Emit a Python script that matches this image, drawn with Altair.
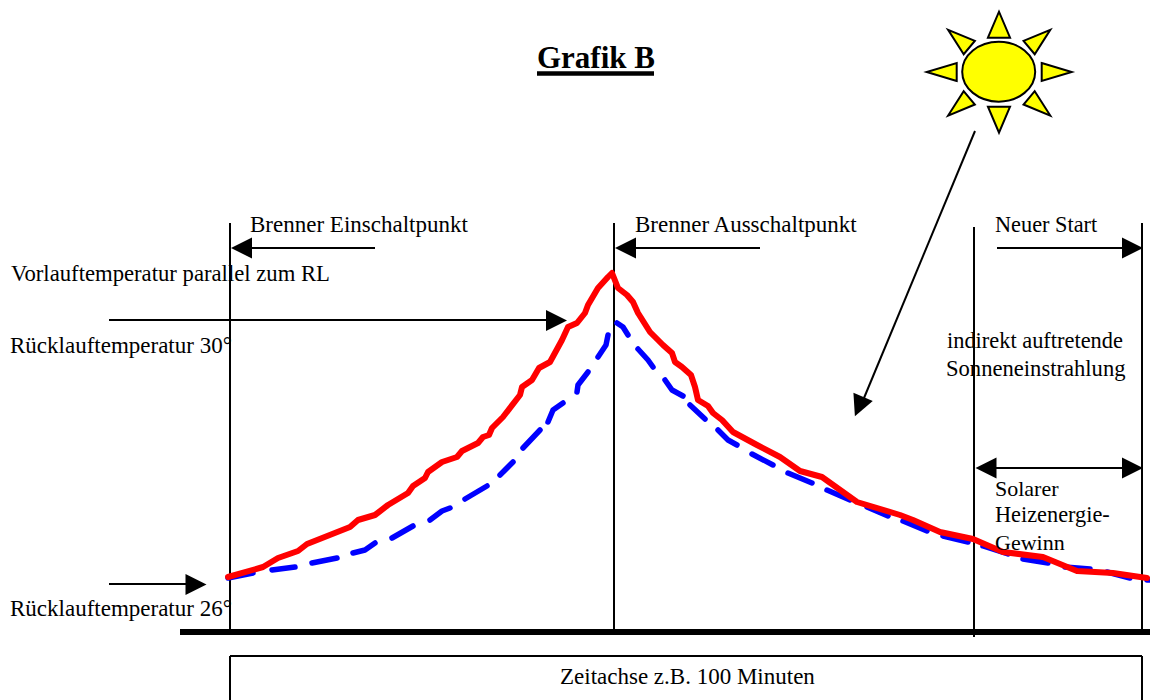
import altair as alt
import pandas as pd

FONT = "Liberation Serif"

# Axis domains of the drawing (time along x, temperature along y), no visible axes
X_DOMAIN = [8, 1150]
Y_DOMAIN = [700, 8]

RED_X = [228, 263, 278, 298, 307, 350, 358, 375, 388, 408, 413, 425, 428, 442, 457, 462, 478, 483, 489, 492, 503,
         520, 522, 532, 539, 550, 562, 568, 577, 585, 588, 598, 608, 612, 618, 627, 633, 638, 650, 663, 672, 675,
         682, 691, 695, 698, 708, 713, 722, 733, 757, 780, 800, 822, 857, 900, 913, 940, 973, 1003, 1043, 1077,
         1113, 1147]
RED_Y = [577, 567, 558, 551, 544, 527, 520, 515, 505, 493, 486, 478, 472, 462, 457, 451, 443, 437, 435, 428, 417,
         395, 387, 380, 368, 362, 340, 327, 323, 313, 305, 288, 277, 273, 288, 295, 302, 313, 332, 345, 353, 362,
         367, 375, 387, 400, 406, 413, 420, 432, 445, 457, 471, 477, 502, 515, 520, 532, 539, 552, 557, 571,
         573, 578]

BLUE_DASH = [1, 1, 2, 2, 3, 3, 4, 4, 4, 5, 5, 6, 6, 6, 7, 7, 8, 8, 9, 9, 10, 10, 10, 11, 11, 11, 12, 12, 12,
             13, 13, 13, 14, 14, 14, 15, 15, 15, 16, 16, 17, 17, 17, 18, 18, 19, 19, 20, 20, 21, 21, 22, 22,
             23, 23, 24, 24, 25, 25, 26, 26, 27, 27, 28, 28]
BLUE_X = [228, 253, 272, 295, 312, 337, 353, 365, 375, 392, 413, 430, 442, 450, 465, 487, 500, 513, 523, 540,
          548, 553, 563, 577, 578, 588, 598, 606, 608, 617, 623, 628, 638, 648, 653, 665, 672, 683, 690, 705,
          718, 728, 737, 752, 773, 788, 812, 827, 850, 867, 888, 903, 927, 943, 968, 983, 1008, 1023, 1048,
          1065, 1090, 1107, 1130, 1147, 1149]
BLUE_Y = [578, 573, 570, 567, 563, 558, 553, 550, 543, 538, 526, 520, 511, 508, 499, 486, 475, 462, 448, 430,
          422, 410, 403, 392, 385, 372, 357, 345, 335, 323, 327, 335, 349, 360, 367, 380, 390, 396, 405, 419,
          430, 440, 445, 454, 465, 473, 483, 490, 500, 507, 516, 521, 531, 536, 542, 546, 554, 559, 563,
          567, 569, 572, 578, 580, 580]

# Straight strokes: x, x2, y, y2, stroke width
LINE_X = [230, 614, 974, 1142, 180, 230, 230, 1142, 252, 636, 997, 109, 109, 975, 996, 537]
LINE_X2 = [230, 614, 974, 1142, 1150, 1142, 230, 1142, 375, 760, 1123, 547, 186, 864, 1123, 654]
LINE_Y = [223, 223, 227, 223, 632, 656, 656, 656, 248, 248, 248, 320, 584, 131, 468, 73.5]
LINE_Y2 = [632, 632, 637, 632, 632, 656, 700, 700, 248, 248, 248, 320, 584, 398, 468, 73.5]
LINE_W = [2, 2, 2, 2, 6, 2, 2, 2, 2, 2, 2, 2, 2, 2, 2, 4.5]

# Arrow heads
HEAD_PATH = "M-1,1L0,-1L1,1Z"
HEAD_X = [241.5, 625.5, 1132.5, 556.5, 196, 859, 986, 1132.5]
HEAD_Y = [248, 248, 248, 320.5, 584.5, 406.5, 468, 468]
HEAD_ANGLE = [270, 270, 90, 90, 90, 203, 270, 90]
HEAD_SIZE = [441] * len(HEAD_X)

# Sun
SUN_X = [999, 999, 941.7, 1056.7, 958.7, 1039.7, 958.7, 1039.7]
SUN_Y = [24.7, 119.7, 72, 72, 38.7, 38.7, 106.7, 106.7]
SUN_ANGLE = [0, 180, 270, 90, 310, 50, 230, 130]
SUN_SIZE = [676, 676, 900, 900, 762, 762, 762, 762]
SUN_SHAPE = ["M-0.85,1L0,-1L0.85,1Z"] * 2 + ["M-0.6,1L0,-1L0.6,1Z"] * 2 + ["M-0.63,1L0,-1L0.63,1Z"] * 4
DISC_X = [998.7]
DISC_Y = [71.7]
DISC_SIZE = [5329]
DISC_SHAPE = ["M-1,0A1,0.82,0,1,1,1,0A1,0.82,0,1,1,-1,0Z"]

# Texts
TEXTS = ["Brenner Einschaltpunkt", "Brenner Ausschaltpunkt", "Neuer Start", "Vorlauftemperatur parallel zum RL",
         "Rücklauftemperatur 30°", "Rücklauftemperatur 26°", "indirekt auftretende", "Sonneneinstrahlung",
         "Solarer", "Heizenergie-", "Gewinn", "Zeitachse z.B. 100 Minuten"]
TEXT_X = [250, 635, 995, 11, 10, 10, 947, 946, 995, 995, 995, 560]
TEXT_Y = [232, 232, 232, 281, 353, 616, 348, 376, 496, 522, 550, 684]
TEXT_SIZE = [23, 23, 22.3, 22.7, 23, 23, 22.4, 22.6, 22, 22.3, 22, 23]
TITLE = ["Grafik B"]
TITLE_X = [537]
TITLE_Y = [68]

x = alt.X("x:Q", scale=alt.Scale(domain=X_DOMAIN, nice=False, zero=False), axis=None)
y = alt.Y("y:Q", scale=alt.Scale(domain=Y_DOMAIN, nice=False, zero=False), axis=None)

lines = alt.Chart(pd.DataFrame({"x": LINE_X, "x2": LINE_X2, "y": LINE_Y, "y2": LINE_Y2, "w": LINE_W})).mark_rule(
    color="black", strokeCap="butt"
).encode(x=x, x2="x2:Q", y=y, y2="y2:Q", strokeWidth=alt.StrokeWidth("w:Q", scale=None))

blue = alt.Chart(pd.DataFrame({"x": BLUE_X, "y": BLUE_Y, "d": BLUE_DASH, "o": range(len(BLUE_X))})).mark_line(
    color="#0000ff", strokeWidth=5.5, strokeCap="round", strokeJoin="round"
).encode(x=x, y=y, detail="d:N", order="o:Q")

red = alt.Chart(pd.DataFrame({"x": RED_X, "y": RED_Y, "o": range(len(RED_X))})).mark_line(
    color="#ff0000", strokeWidth=6, strokeCap="round", strokeJoin="round"
).encode(x=x, y=y, order="o:Q")

heads = alt.Chart(pd.DataFrame({"x": HEAD_X, "y": HEAD_Y, "a": HEAD_ANGLE, "s": HEAD_SIZE})).mark_point(
    filled=True, fill="black", opacity=1, shape=HEAD_PATH
).encode(x=x, y=y, angle=alt.Angle("a:Q", scale=None), size=alt.Size("s:Q", scale=None))

rays = alt.Chart(pd.DataFrame({"x": SUN_X, "y": SUN_Y, "a": SUN_ANGLE, "s": SUN_SIZE, "p": SUN_SHAPE})).mark_point(
    filled=True, fill="#ffff00", stroke="black", strokeWidth=2, opacity=1, strokeJoin="miter"
).encode(x=x, y=y, angle=alt.Angle("a:Q", scale=None), size=alt.Size("s:Q", scale=None),
         shape=alt.Shape("p:N", scale=None))

disc = alt.Chart(pd.DataFrame({"x": DISC_X, "y": DISC_Y, "s": DISC_SIZE, "p": DISC_SHAPE})).mark_point(
    filled=True, fill="#ffff00", stroke="black", strokeWidth=2, opacity=1
).encode(x=x, y=y, size=alt.Size("s:Q", scale=None), shape=alt.Shape("p:N", scale=None))

labels = alt.Chart(pd.DataFrame({"x": TEXT_X, "y": TEXT_Y, "t": TEXTS, "s": TEXT_SIZE})).mark_text(
    font=FONT, align="left", baseline="alphabetic", color="black"
).encode(x=x, y=y, text="t:N", size=alt.Size("s:Q", scale=None))

title = alt.Chart(pd.DataFrame({"x": TITLE_X, "y": TITLE_Y, "t": TITLE})).mark_text(
    font=FONT, fontSize=31, fontWeight="bold", align="left", baseline="alphabetic", color="black"
).encode(x=x, y=y, text="t:N")

chart = alt.layer(lines, blue, red, heads, rays, disc, labels, title).properties(
    width=1142, height=692, padding=0, background="white", autosize=alt.AutoSizeParams(type="none")
).configure_view(stroke=None)

chart.save("out.html", embed_options={"renderer": "svg", "actions": False})
